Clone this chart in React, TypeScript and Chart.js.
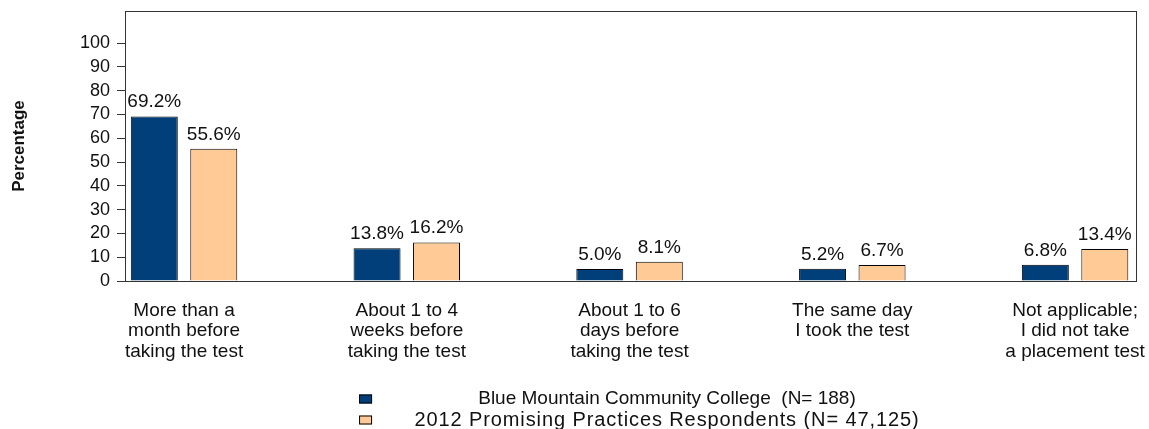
import React, { useEffect, useRef } from "react";
import { Chart, registerables } from "chart.js";

Chart.register(...registerables);

const categories: string[][] = [
  ["More than a", "month before", "taking the test"],
  ["About 1 to 4", "weeks before", "taking the test"],
  ["About 1 to 6", "days before", "taking the test"],
  ["The same day", "I took the test"],
  ["Not applicable;", "I did not take", "a placement test"],
];
const collegeValues = [69.2, 13.8, 5.0, 5.2, 6.8];
const respondentValues = [55.6, 16.2, 8.1, 6.7, 13.4];
const seriesNames = [
  "Blue Mountain Community College  (N= 188)",
  "2012 Promising Practices Respondents (N= 47,125)",
];
const seriesColors = ["#003f7a", "#ffca96"];
const yTicks = [0, 10, 20, 30, 40, 50, 60, 70, 80, 90, 100];

const FONT = "'Liberation Sans', Arial, sans-serif";

const boxPlugin = {
  id: "boxPlugin",
  afterDraw(chart: any) {
    const { ctx, chartArea } = chart;
    ctx.save();
    ctx.strokeStyle = "#333";
    ctx.lineWidth = 1;
    ctx.strokeRect(
      Math.round(chartArea.left) + 0.5,
      Math.round(chartArea.top) + 0.5,
      Math.round(chartArea.right - chartArea.left) - 1,
      Math.round(chartArea.bottom - chartArea.top)
    );
    ctx.restore();
  },
};

const valueLabelPlugin = {
  id: "valueLabels",
  afterDatasetsDraw(chart: any) {
    const { ctx } = chart;
    ctx.save();
    ctx.font = `19px ${FONT}`;
    ctx.fillStyle = "#111";
    ctx.textAlign = "center";
    ctx.textBaseline = "alphabetic";
    chart.data.datasets.forEach((ds: any, di: number) => {
      const meta = chart.getDatasetMeta(di);
      meta.data.forEach((bar: any, i: number) => {
        const v = ds.data[i].y;
        ctx.fillText(v.toFixed(1) + "%", bar.x, bar.y - 9);
      });
    });
    ctx.restore();
  },
};

const legendPlugin = {
  id: "customLegend",
  afterDraw(chart: any) {
    const { ctx, width } = chart;
    ctx.save();
    ctx.textAlign = "center";
    ctx.textBaseline = "middle";
    const textCenter = width * 0.5805;
    const boxX = width * 0.3125;
    const y0 = 399;
    const lh = 21;
    const sizes = [19, 20];
    const spacing = ["0px", "0.9px"];
    chart.data.datasets.forEach((ds: any, i: number) => {
      const cy = y0 + i * lh;
      ctx.fillStyle = ds.backgroundColor;
      ctx.fillRect(boxX, cy - 4.5, 13, 9);
      ctx.strokeStyle = "#000";
      ctx.lineWidth = 1;
      ctx.strokeRect(boxX + 0.5, cy - 4.5 + 0.5, 12, 8);
      ctx.fillStyle = "#111";
      ctx.font = `${sizes[i]}px ${FONT}`;
      (ctx as any).letterSpacing = spacing[i];
      ctx.fillText(ds.label, textCenter, cy);
      (ctx as any).letterSpacing = "0px";
    });
    ctx.restore();
  },
};

export default function App() {
  const ref = useRef<HTMLCanvasElement | null>(null);
  useEffect(() => {
    if (!ref.current) return;
    const chart = new Chart(ref.current, {
      type: "bar",
      data: {
        datasets: [
          {
            label: seriesNames[0],
            data: collegeValues.map((v, i) => ({ x: i, y: v })),
            backgroundColor: seriesColors[0],
            borderColor: "#000",
            borderWidth: 1,
          },
          {
            label: seriesNames[1],
            data: respondentValues.map((v, i) => ({ x: i, y: v })),
            backgroundColor: seriesColors[1],
            borderColor: "#000",
            borderWidth: 1,
          },
        ] as any,
      },
      options: {
        animation: false,
        responsive: false,
        maintainAspectRatio: false,
        layout: { padding: { left: 0, right: 12, top: 11, bottom: 0 } },
        datasets: { bar: { categoryPercentage: 0.534, barPercentage: 0.79 } } as any,
        plugins: { legend: { display: false }, tooltip: { enabled: false } },
        scales: {
          x: {
            type: "linear",
            offset: false,
            min: -0.265,
            max: 4.278,
            grid: { display: false, drawTicks: false, offset: false },
            border: { display: false },
            afterBuildTicks: (scale: any) => {
              scale.ticks = categories.map((_, i) => ({ value: i }));
            },
            afterFit: (scale: any) => {
              scale.height = 148;
              scale.paddingLeft = 0;
              scale.paddingRight = 0;
            },
            ticks: {
              autoSkip: false,
              maxRotation: 0,
              padding: 20,
              color: "#111",
              font: { family: FONT, size: 19, lineHeight: 1.06 },
              callback: (v: any) => categories[v] ?? "",
            },
          },
          y: {
            min: 0,
            max: 113.5,
            afterBuildTicks: (scale: any) => {
              scale.ticks = yTicks.map((v) => ({ value: v }));
            },
            afterFit: (scale: any) => {
              scale.width = 125;
              scale.paddingTop = 0;
              scale.paddingBottom = 0;
            },
            grid: {
              drawOnChartArea: false,
              drawTicks: true,
              tickLength: 8,
              color: "#333",
            },
            border: { display: true, color: "#333" },
            ticks: {
              padding: 7,
              color: "#111",
              font: { family: FONT, size: 18 },
            },
            title: {
              display: true,
              text: "Percentage",
              color: "#111",
              font: { family: FONT, size: 17, weight: "bold" },
              padding: { top: 9, bottom: 0 },
            },
          },
        },
      },
      plugins: [boxPlugin, valueLabelPlugin, legendPlugin],
    });
    return () => chart.destroy();
  }, []);
  return (
    <div style={{ position: "fixed", left: 0, top: 0, width: 1149, height: 429, background: "#fff" }}>
      <canvas ref={ref} width={1149} height={429} />
    </div>
  );
}
